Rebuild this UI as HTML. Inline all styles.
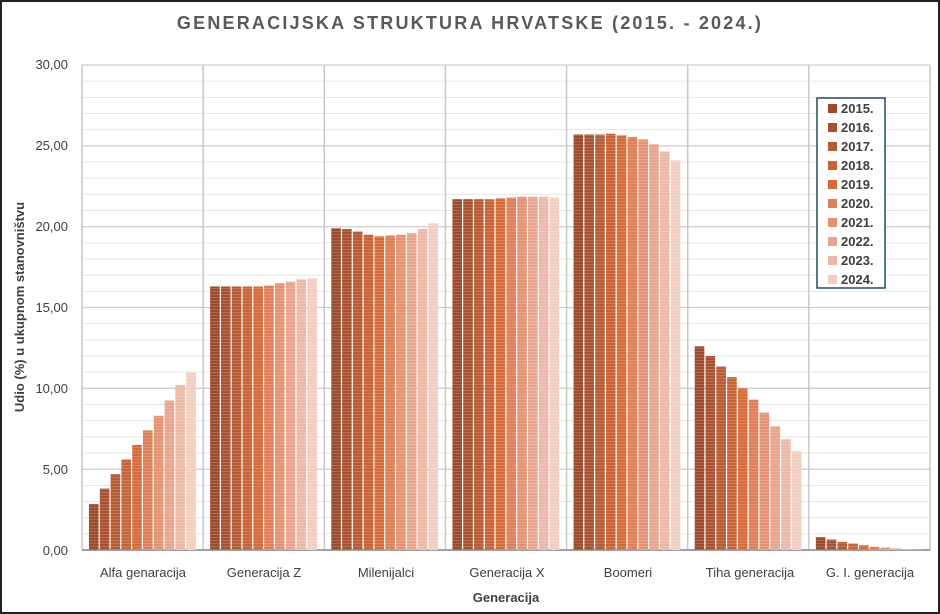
<!DOCTYPE html>
<html><head><meta charset="utf-8"><style>
html,body{margin:0;padding:0;background:#fff}
svg{display:block;font-family:"Liberation Sans",sans-serif}
</style></head><body>
<svg id="s" width="940" height="614" viewBox="0 0 940 614" xmlns="http://www.w3.org/2000/svg">
<defs>
<pattern id="str" width="4" height="3" patternUnits="userSpaceOnUse"><rect width="4" height="1" fill="#fff" opacity="0.18"/></pattern>
</defs>
<rect x="1" y="1" width="938" height="612" fill="#fff" stroke="#222" stroke-width="2"/>
<text x="470" y="29" text-anchor="middle" font-size="18" font-weight="bold" fill="#595959" letter-spacing="2.2">GENERACIJSKA STRUKTURA HRVATSKE (2015. - 2024.)</text>
<g id="grid"></g>
<g id="bars"></g>
<g font-size="13" fill="#404040" text-anchor="end">
<text x="68" y="69">30,00</text>
<text x="68" y="150">25,00</text>
<text x="68" y="231">20,00</text>
<text x="68" y="312">15,00</text>
<text x="68" y="393">10,00</text>
<text x="68" y="474">5,00</text>
<text x="68" y="555">0,00</text>
</g>
<g font-size="13" fill="#404040" text-anchor="middle">
<text x="143" y="577">Alfa genaracija</text>
<text x="264" y="577">Generacija Z</text>
<text x="386" y="577">Milenijalci</text>
<text x="507" y="577">Generacija X</text>
<text x="628" y="577">Boomeri</text>
<text x="750" y="577">Tiha generacija</text>
<text x="870" y="577">G. I. generacija</text>
</g>
<text x="506" y="602" text-anchor="middle" font-size="13" font-weight="bold" fill="#404040">Generacija</text>
<text transform="translate(24,307) rotate(-90)" text-anchor="middle" font-size="13" font-weight="bold" fill="#404040">Udio (%) u ukupnom stanovništvu</text>
<rect x="817" y="98" width="68" height="190" fill="#fff" stroke="#1f4e5f" stroke-width="1.5"/>
<g id="leg" font-size="13" font-weight="bold" fill="#404040">
<text x="841" y="113">2015.</text><text x="841" y="132">2016.</text><text x="841" y="151">2017.</text><text x="841" y="170">2018.</text><text x="841" y="189">2019.</text><text x="841" y="208">2020.</text><text x="841" y="227">2021.</text><text x="841" y="246">2022.</text><text x="841" y="265">2023.</text><text x="841" y="284">2024.</text>
</g>
</svg>
<script>
var NS="http://www.w3.org/2000/svg";
function el(p,t,a){var e=document.createElementNS(NS,t);for(var k in a)e.setAttribute(k,a[k]);p.appendChild(e);return e;}
var cols=["#9c4a2c","#a9502e","#b85a32","#c96335","#d86a38","#e07e55","#e49272","#e9a58c","#edb9a6","#f2cdc0"];
var data=[[2.85,3.8,4.7,5.6,6.5,7.4,8.3,9.25,10.2,11.0],
[16.3,16.3,16.3,16.3,16.3,16.35,16.5,16.6,16.75,16.8],
[19.9,19.85,19.7,19.5,19.4,19.45,19.5,19.6,19.85,20.2],
[21.7,21.7,21.7,21.7,21.75,21.8,21.85,21.85,21.85,21.8],
[25.7,25.7,25.7,25.75,25.65,25.55,25.4,25.1,24.65,24.1],
[12.6,12.0,11.35,10.7,10.0,9.3,8.5,7.65,6.85,6.1],
[0.8,0.65,0.5,0.4,0.3,0.2,0.15,0.1,0.05,0.02]];
var L=82,R=930,T=65,B=550,sc=(B-T)/30,cw=(R-L)/7;
var g=document.getElementById("grid");
for(var v=0;v<=30;v++){var y=B-v*sc;el(g,"line",{x1:L,x2:R,y1:y,y2:y,stroke:v%5==0?"#d0d0d0":"#e6e6e6","stroke-width":v%5==0?1.3:1});}
for(var i=0;i<=7;i++){var x=L+i*cw;el(g,"line",{x1:x,x2:x,y1:T,y2:B,stroke:"#c8c8c8","stroke-width":1.5});}
var b=document.getElementById("bars");
for(var c=0;c<7;c++)for(var j=0;j<10;j++){var x=L+c*cw+7+j*10.8,h=data[c][j]*sc;
el(b,"rect",{x:x,y:B-h,width:9.6,height:h,fill:cols[j]});
el(b,"rect",{x:x,y:B-h,width:9.6,height:h,fill:"url(#str)"});}
el(g,"line",{x1:L,x2:R,y1:B,y2:B,stroke:"#a0a0a0","stroke-width":2});
var lg=document.getElementById("leg");
for(var j=0;j<10;j++)el(lg,"rect",{x:828,y:104+j*19,width:9,height:9,fill:cols[j]});
</script>
</body></html>
